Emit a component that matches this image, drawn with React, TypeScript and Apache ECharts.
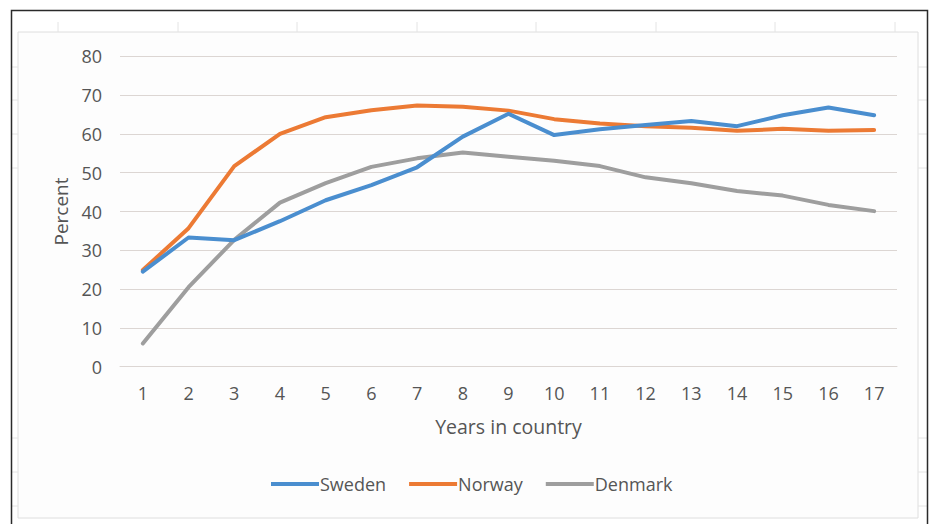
import React, { useEffect, useRef } from "react";
import * as echarts from "echarts";

const years = ["1", "2", "3", "4", "5", "6", "7", "8", "9", "10", "11", "12", "13", "14", "15", "16", "17"];
const sweden = [24.5, 33.3, 32.6, 37.5, 42.9, 46.8, 51.4, 59.3, 65.2, 59.7, 61.2, 62.3, 63.3, 62.0, 64.8, 66.8, 64.8];
const norway = [24.9, 35.7, 51.7, 60.0, 64.3, 66.1, 67.3, 67.0, 66.0, 63.8, 62.7, 62.0, 61.6, 60.8, 61.3, 60.8, 61.0];
const denmark = [6.0, 20.5, 32.7, 42.3, 47.3, 51.5, 53.7, 55.2, 54.1, 53.1, 51.7, 48.8, 47.3, 45.3, 44.1, 41.7, 40.1];
const seriesNames = ["Sweden", "Norway", "Denmark"];
const colors = ["#4A8ECF", "#EC7A34", "#9E9E9E"];

const FONT = "'Open Sans', sans-serif";
const TXT = "#555555";

export default function App() {
  const ref = useRef<HTMLDivElement>(null);
  useEffect(() => {
    if (!ref.current) return;
    const chart = echarts.init(ref.current, undefined, { renderer: "svg" });
    const faint = { stroke: "#e4e4e4", lineWidth: 1 };
    const topTicks = [58, 178, 297, 417, 536, 656, 775, 895].map((x) => ({
      type: "line",
      shape: { x1: x, y1: 22, x2: x, y2: 32 },
      style: faint,
      silent: true,
    }));
    const sideRows = [67, 100, 134, 168, 438, 472, 506].flatMap((y) => [
      { type: "line", shape: { x1: 12, y1: y, x2: 18, y2: y }, style: faint, silent: true },
      { type: "line", shape: { x1: 918, y1: y, x2: 927, y2: y }, style: faint, silent: true },
    ]);
    chart.setOption({
      animation: false,
      backgroundColor: "#ffffff",
      textStyle: { fontFamily: FONT },
      graphic: [
        ...topTicks,
        ...sideRows,
        {
          type: "rect",
          shape: { x: 18, y: 32, width: 900, height: 486 },
          style: { fill: "#fdfdfd", stroke: "#dedede", lineWidth: 1 },
          z: -10,
          silent: true,
        },
        {
          type: "polyline",
          shape: { points: [[11.5, 524], [11.5, 10.5], [927.5, 10.5], [927.5, 524]] },
          style: { stroke: "#2a2a2a", lineWidth: 1.5, fill: "none" },
          silent: true,
        },
      ],
      grid: { left: 120, right: 36, top: 56.3, bottom: 157.3, containLabel: false },
      legend: {
        bottom: 26,
        left: 266,
        data: seriesNames,
        icon: "rect",
        itemWidth: 48,
        itemHeight: 4,
        itemGap: 23,
        textStyle: { color: TXT, fontSize: 18, fontFamily: FONT, padding: [0, 0, 0, -4] },
      },
      xAxis: {
        type: "category",
        data: years,
        boundaryGap: true,
        axisLine: { show: true, lineStyle: { color: "#dcd6d3", width: 1 } },
        axisTick: { show: false },
        axisLabel: { color: TXT, fontSize: 18, margin: 17, fontFamily: FONT },
        name: "Years in country",
        nameLocation: "middle",
        nameGap: 50,
        nameTextStyle: { color: TXT, fontSize: 19.5, fontFamily: FONT },
      },
      yAxis: {
        type: "value",
        min: 0,
        max: 80,
        interval: 10,
        axisLine: { show: false },
        axisTick: { show: false },
        splitLine: { lineStyle: { color: "#dcd6d3", width: 1 } },
        axisLabel: { color: TXT, fontSize: 18, margin: 18, fontFamily: FONT },
        name: "Percent",
        nameLocation: "middle",
        nameGap: 50,
        nameRotate: 90,
        nameTextStyle: { color: TXT, fontSize: 19, fontFamily: FONT },
      },
      series: [sweden, norway, denmark].map((d, i) => ({
        name: seriesNames[i],
        type: "line",
        data: d,
        symbol: "none",
        lineStyle: { color: colors[i], width: 4, cap: "round", join: "round" },
        itemStyle: { color: colors[i] },
        z: 3 - i,
      })),
    });
    return () => chart.dispose();
  }, []);
  return (
    <div
      ref={ref}
      style={{ position: "fixed", left: 0, top: 0, width: 933, height: 524 }}
    />
  );
}
